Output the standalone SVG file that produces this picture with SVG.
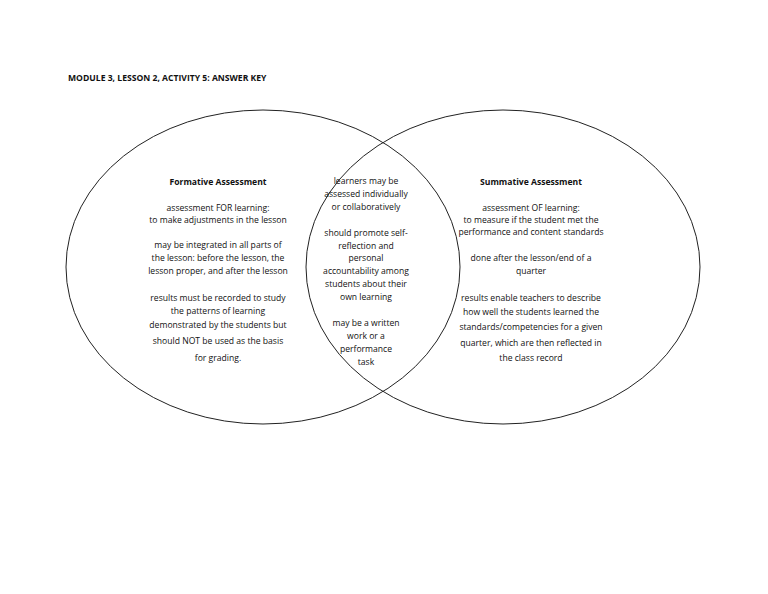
<svg xmlns="http://www.w3.org/2000/svg" width="768" height="594" viewBox="0 0 768 594">
<style>
text{font-family:"Open Sans","Liberation Sans",sans-serif;font-size:8.6px;fill:#111;text-anchor:middle}
.b{font-weight:bold}
.c{fill:none;stroke:#222;stroke-width:1}
</style>
<rect width="768" height="594" fill="#fff"/>
<text class="b" x="68" y="81" style="text-anchor:start">MODULE 3, LESSON 2, ACTIVITY 5: ANSWER KEY</text>
<g id="connectors"></g>
<g id="formative">
<ellipse class="c" cx="263" cy="267" rx="197" ry="157"/>
<text class="b" x="218" y="185">Formative Assessment</text>
<text x="218" y="211">assessment FOR learning:</text>
<text x="218" y="223">to make adjustments in the lesson</text>
<text x="218" y="248">may be integrated in all parts of</text>
<text x="218" y="261">the lesson: before the lesson, the</text>
<text x="218" y="274">lesson proper, and after the lesson</text>
<text x="218" y="301">results must be recorded to study</text>
<text x="218" y="314">the patterns of learning</text>
<text x="218" y="328">demonstrated by the students but</text>
<text x="218" y="344">should NOT be used as the basis</text>
<text x="218" y="361">for grading.</text>
</g>
<g id="summative">
<ellipse class="c" cx="503" cy="267" rx="197" ry="157"/>
<text class="b" x="531" y="185">Summative Assessment</text>
<text x="531" y="211">assessment OF learning:</text>
<text x="531" y="223">to measure if the student met the</text>
<text x="531" y="235">performance and content standards</text>
<text x="531" y="261">done after the lesson/end of a</text>
<text x="531" y="274">quarter</text>
<text x="531" y="301">results enable teachers to describe</text>
<text x="531" y="315">how well the students learned the</text>
<text x="531" y="330">standards/competencies for a given</text>
<text x="531" y="346">quarter, which are then reflected in</text>
<text x="531" y="361">the class record</text>
</g>
<g id="both">
<text x="366" y="184">learners may be</text>
<text x="366" y="197">assessed individually</text>
<text x="366" y="210">or collaboratively</text>
<text x="366" y="236">should promote self-</text>
<text x="366" y="249">reflection and</text>
<text x="366" y="261">personal</text>
<text x="366" y="274">accountability among</text>
<text x="366" y="287">students about their</text>
<text x="366" y="300">own learning</text>
<text x="366" y="326">may be a written</text>
<text x="366" y="339">work or a</text>
<text x="366" y="352">performance</text>
<text x="366" y="365">task</text>
</g>
</svg>
